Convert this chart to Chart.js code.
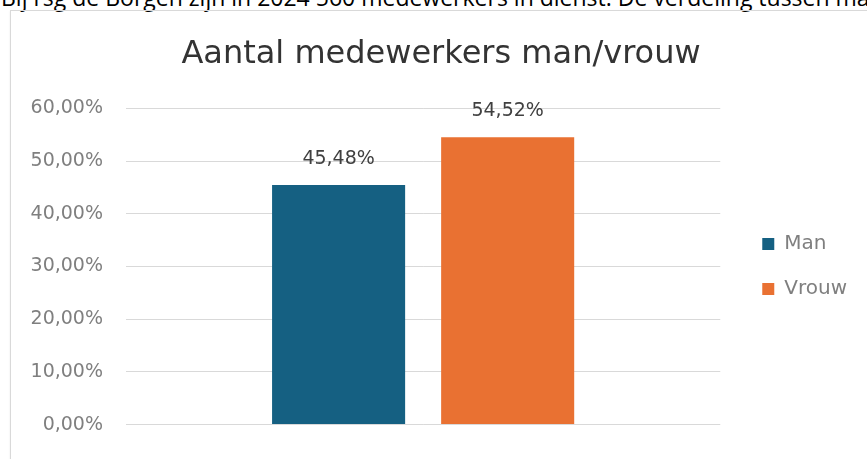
<!DOCTYPE html>
<html lang="nl">
<head>
<meta charset="utf-8">
<title>Aantal medewerkers man/vrouw</title>
<script src="https://cdn.jsdelivr.net/npm/chart.js@4.4.1/dist/chart.umd.min.js"></script>
<style>
  html, body { margin: 0; padding: 0; background: #fff; overflow: hidden; }
  #page { position: relative; width: 867px; height: 459px; overflow: hidden; }
  #intro {
    position: absolute; left: 1px; top: -14px; margin: 0;
    font: 23px/23px "Open Sans", sans-serif; color: #000; white-space: nowrap;
  }
  #frame {
    position: absolute; left: 10px; top: 10px; width: 900px; height: 500px;
    border-left: 1px solid #d9d9d9; border-top: 1px solid #d9d9d9;
    box-shadow: 0 1px 2px rgba(0,0,0,0.08);
  }
  #wrap { position: absolute; left: 0; top: 0; width: 867px; height: 459px; }
</style>
</head>
<body>
<div id="page">
  <p id="intro">Bij rsg de Borgen zijn in 2024 560 medewerkers in dienst. De verdeling tussen man</p>
  <div id="frame"></div>
  <div id="wrap"><canvas id="chart"></canvas></div>
</div>
<script>
  var title = "Aantal medewerkers man/vrouw";
  var categories = ["Medewerkers"];
  var seriesNames = ["Man", "Vrouw"];
  var manValues = [45.48];
  var vrouwValues = [54.52];
  var yTicks = [0, 10, 20, 30, 40, 50, 60];
  var colors = ["#156082", "#e97132"];

  function pct(v) {
    return v.toFixed(2).replace(".", ",") + "%";
  }

  // draws the value above each bar, like the Excel data labels
  var valueLabels = {
    id: "valueLabels",
    afterDatasetsDraw: function (chart) {
      var ctx = chart.ctx;
      ctx.save();
      ctx.font = "19px 'DejaVu Sans'";
      ctx.fillStyle = "#404040";
      ctx.textAlign = "center";
      ctx.textBaseline = "middle";
      chart.data.datasets.forEach(function (ds, i) {
        chart.getDatasetMeta(i).data.forEach(function (bar, j) {
          ctx.fillText(pct(ds.data[j]), bar.x, bar.y - 26);
        });
      });
      ctx.restore();
    },
  };

  Chart.defaults.font.family = "'DejaVu Sans', sans-serif";

  new Chart(document.getElementById("chart"), {
    type: "bar",
    data: {
      labels: categories,
      datasets: [
        { label: seriesNames[0], data: manValues, backgroundColor: colors[0] },
        { label: seriesNames[1], data: vrouwValues, backgroundColor: colors[1] },
      ],
    },
    options: {
      responsive: true,
      maintainAspectRatio: false,
      animation: false,
      categoryPercentage: 0.569,
      barPercentage: 0.787,
      layout: { padding: { left: 25, right: 10, top: 0, bottom: 22 } },
      scales: {
        x: { display: false },
        y: {
          min: yTicks[0],
          max: yTicks[yTicks.length - 1],
          afterBuildTicks: function (scale) {
            scale.ticks = yTicks.map(function (v) { return { value: v }; });
          },
          afterFit: function (scale) { scale.width = 101; },
          border: { display: false },
          grid: { color: "#d9d9d9", drawTicks: false },
          ticks: {
            padding: 23,
            color: "#7f7f7f",
            font: { size: 19 },
            callback: function (v) { return pct(v); },
          },
        },
        gap: {
          position: "right",
          afterFit: function (scale) { scale.width = 17; },
          border: { display: false },
          grid: { display: false },
          ticks: { display: false },
        },
      },
      plugins: {
        title: {
          display: true,
          text: title,
          color: "#333333",
          font: { size: 32, weight: "normal" },
          padding: { top: 35, bottom: 35 },
        },
        legend: {
          position: "right",
          fullSize: false,
          labels: {
            boxWidth: 12,
            boxHeight: 12,
            padding: 25,
            color: "#7f7f7f",
            font: { size: 20 },
          },
        },
        tooltip: { enabled: false },
      },
    },
    plugins: [valueLabels],
  });
</script>
</body>
</html>
